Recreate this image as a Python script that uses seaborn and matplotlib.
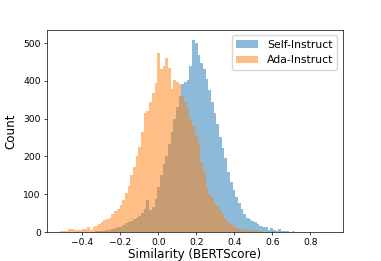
import numpy as np
import pandas as pd
import matplotlib
matplotlib.use("Agg")
import matplotlib.pyplot as plt
import seaborn as sns


## Histogram counts (100 shared bins, -0.516 .. 0.900)
bin_lo, bin_hi, n_bins = -0.516, 0.900, 100

self_instruct = [
    0, 0, 0, 0, 0, 0, 0, 0, 0, 0,
    0, 1, 1, 2, 2, 3, 4, 5, 6, 8,
    10, 12, 14, 18, 23, 26, 30, 34, 38, 42,
    50, 60, 85, 58, 67, 88, 118, 150, 180, 200,
    232, 265, 300, 330, 360, 392, 397, 402, 440, 509,
    500, 468, 448, 430, 405, 375, 345, 315, 285, 252,
    222, 195, 160, 132, 110, 93, 78, 62, 48, 38,
    34, 30, 26, 20, 16, 13, 12, 6, 10, 5,
    4, 7, 3, 2, 2, 1, 2, 1, 1, 0,
    1, 0, 1, 1, 0, 0, 1, 0, 0, 1,
]

ada_instruct = [
    2, 3, 4, 9, 8, 5, 5, 6, 7, 7,
    12, 5, 14, 16, 20, 26, 31, 34, 38, 48,
    55, 60, 72, 84, 102, 122, 150, 172, 200, 226,
    265, 316, 320, 345, 368, 394, 473, 430, 438, 460,
    434, 378, 402, 397, 392, 360, 345, 325, 300, 280,
    255, 235, 185, 160, 120, 100, 92, 78, 70, 58,
    48, 35, 27, 20, 12, 10, 8, 6, 9, 5,
    4, 3, 5, 2, 2, 1, 0, 1, 0, 0,
    0, 0, 0, 0, 0, 0, 0, 0, 0, 0,
    0, 0, 0, 0, 0, 0, 0, 0, 0, 0,
]

series_names = ["Self-Instruct", "Ada-Instruct"]


## Build long-form table (bin centres weighted by count)
bw = (bin_hi - bin_lo) / n_bins
centres = bin_lo + bw * (np.arange(n_bins) + 0.5)

df = pd.concat([
    pd.DataFrame({"sim": centres, "count": self_instruct, "model": series_names[0]}),
    pd.DataFrame({"sim": centres, "count": ada_instruct, "model": series_names[1]}),
])


## Plot
fig, ax = plt.subplots(figsize=(3.81, 2.61), dpi=100)
fig.subplots_adjust(left=0.123, right=0.900, bottom=0.111, top=0.885)

for name, color in zip(series_names, ["C0", "C1"]):
    sns.histplot(data=df[df["model"] == name], x="sim", weights="count",
                 binwidth=bw, binrange=(bin_lo, bin_hi), color=color,
                 alpha=0.5, linewidth=0, label=name, ax=ax)

ax.set_xlabel("Similarity (BERTScore)", fontsize=8.6, labelpad=0.5)
ax.set_ylabel("Count", fontsize=8.6, labelpad=4)
ax.tick_params(labelsize=6.6, width=0.5, length=2.4, pad=2)
for s in ax.spines.values():
    s.set_linewidth(0.5)

ax.legend(loc="upper right", fontsize=7.8, handlelength=2.0)

plt.savefig("out.png", dpi=100)
